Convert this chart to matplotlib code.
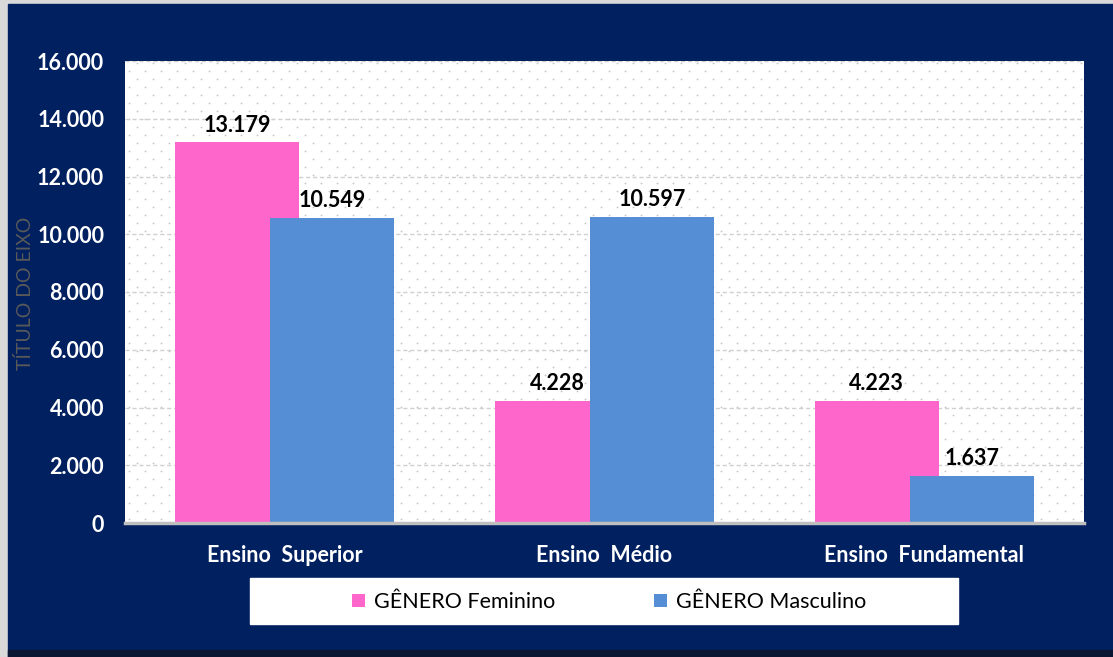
import numpy as np
from matplotlib import pyplot as plt
from matplotlib.patches import Rectangle
from matplotlib.ticker import FuncFormatter

categories = ["Ensino  Superior", "Ensino  Médio", "Ensino  Fundamental"]
feminino = [13179, 4228, 4223]
masculino = [10549, 10597, 1637]
series_names = ["GÊNERO Feminino", "GÊNERO Masculino"]
y_ticks = [0, 2000, 4000, 6000, 8000, 10000, 12000, 14000, 16000]

NAVY = "#002060"
PINK = "#FF66CC"
BLUE = "#558ED5"
FONT = ["Lato", "DejaVu Sans"]


def br_number(v):
    # thousands separator as a dot, as in the source
    return "0" if v == 0 else f"{int(v):,}".replace(",", ".")


fig = plt.figure(figsize=(11.13, 6.57), dpi=100, facecolor="#d9d9d9")
W, H = 1113, 657

# navy chart frame with a dark shadow along the bottom
fig.patches.append(Rectangle((8 / W, 0), 1 - 8 / W, 653 / H,
                             transform=fig.transFigure, color=NAVY, zorder=0))
fig.patches.append(Rectangle((8 / W, 0), 1 - 8 / W, 7 / H,
                             transform=fig.transFigure, color="#0b1633", zorder=0))
# white legend box
fig.patches.append(Rectangle((250 / W, 33 / H), 708 / W, 46 / H,
                             transform=fig.transFigure, color="white", zorder=1))

pw, ph = 959, 462
ax = fig.add_axes([125 / W, 134 / H, pw / W, ph / H])
ax.set_zorder(2)
ax.set_facecolor("white")

# dotted plot-area texture
gx, gy = np.meshgrid(np.arange(4, pw, 16.0), np.arange(4, ph, 8.0))
gx[1::2] += 8
ax.scatter((gx / pw).ravel(), (gy / ph).ravel(), s=1.6, color="#c4c4c4",
           linewidths=0, transform=ax.transAxes, zorder=0)

x = np.arange(len(categories))
width = 0.388
off = 0.1485
bars_f = ax.bar(x - off, feminino, width, color=PINK, label=series_names[0], zorder=2)
bars_m = ax.bar(x + off, masculino, width, color=BLUE, label=series_names[1], zorder=3)

for bars in (bars_f, bars_m):
    for b in bars:
        ax.annotate(br_number(b.get_height()),
                    (b.get_x() + b.get_width() / 2, b.get_height()),
                    xytext=(0, 5), textcoords="offset points", ha="center", va="bottom",
                    fontsize=15.5, fontweight="bold", color="black", family=FONT, zorder=5)

ax.set_xlim(-0.5, 2.5)
ax.set_ylim(0, 16000)
ax.set_yticks(y_ticks)
ax.yaxis.set_major_formatter(FuncFormatter(lambda v, p: br_number(v)))
ax.set_xticks(x)
ax.set_xticklabels(categories)
ax.tick_params(axis="both", length=0, colors="white", labelsize=15.5)
ax.tick_params(axis="y", pad=15)
ax.tick_params(axis="x", pad=16)
for lab in ax.get_xticklabels() + ax.get_yticklabels():
    lab.set_fontweight("bold")
    lab.set_family(FONT)

ax.grid(axis="y", color="#d0d0d0", linestyle=(0, (3, 2)), linewidth=1, zorder=1)
ax.set_axisbelow(True)
for side in ("left", "right", "top"):
    ax.spines[side].set_visible(False)
ax.spines["bottom"].set_color("#bfbfbf")
ax.spines["bottom"].set_linewidth(2.5)
ax.spines["bottom"].set_zorder(4)

fig.text(25 / W, 1 - 293 / H, "TÍTULO DO EIXO", rotation=90, ha="center", va="center",
         color="#595959", fontsize=14, family=FONT)

leg = fig.legend(loc="center", bbox_to_anchor=(609 / W, 1 - 602 / H), ncol=2,
                 frameon=False, handlelength=0.6, handleheight=0.6, handletextpad=0.4,
                 columnspacing=4.6, prop={"family": FONT, "size": 15.5})
leg.set_zorder(3)

fig.savefig("out.png", dpi=100, facecolor=fig.get_facecolor())
